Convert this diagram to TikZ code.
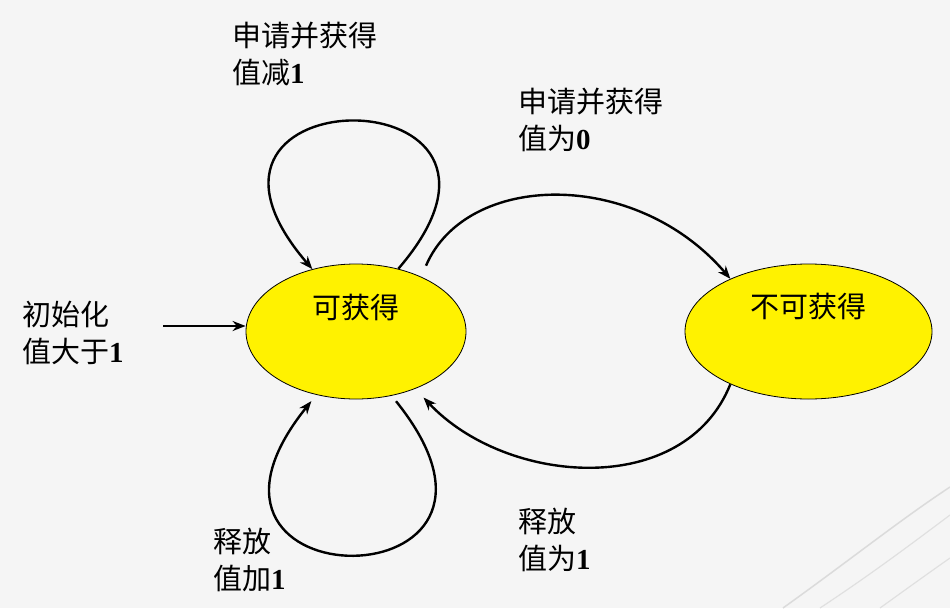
\documentclass[tikz,border=0pt]{standalone}
\usepackage{fontspec}
\setmainfont{Liberation Serif}
\newfontfamily\cjk{Noto Sans CJK SC}
\usetikzlibrary{arrows.meta,shapes.geometric}

\newcommand{\vnum}[1]{{\rmfamily\bfseries #1}}

\begin{document}
\begin{tikzpicture}[x=1pt, y=-1pt, >={Stealth[length=13pt, width=10pt]},
        state/.style={ellipse, draw=black, line width=0.8pt, fill=yellow, inner sep=0pt, minimum height=135pt},
        statetext/.style={inner sep=0pt, font=\cjk\fontsize{29}{37}\selectfont},
        edge/.style={->, line width=2.4pt},
        lbl/.style={anchor=west, align=left, inner sep=0pt, font=\cjk\fontsize{29}{37}\selectfont}]
        \fill[black!4] (0,0) rectangle (950,608);
        \useasboundingbox (0,0) rectangle (950,608);
        % paper texture strokes
        \draw[black!14, line width=1.5pt] (783,608) .. controls (850,560) and (900,520) .. (950,487);
        \draw[black!12, line width=1.2pt] (820,608) .. controls (870,575) and (910,545) .. (950,515);
        \draw[black!12, line width=1.2pt] (880,608) .. controls (905,590) and (930,572) .. (950,558);

        \node[state, minimum width=220pt, label={[statetext, yshift=23.5pt]center:可获得}] (avail) at (356,331.5) {};
        \node[state, minimum width=247pt, label={[statetext, yshift=24.5pt]center:不可获得}] (busy) at (808.5,331.5) {};
        \coordinate (initstart) at (163,326);

        \draw[edge] (initstart) -- (initstart -| avail.west);
        \draw[edge] (avail.56) .. controls +(170,-197) and +(-170,-197) .. (avail.125);
        \draw[edge, shorten <=7pt, shorten >=8pt] (avail.-61) .. controls +(170,211) and +(-170,211) .. (avail.-122);
        \draw[edge, shorten <=12pt] (avail.40) .. controls +(45,-105) and +(-95,-111) .. (busy.146);
        \draw[edge, shorten >=12pt] (busy.-146) .. controls +(-46,115) and +(91,97) .. (avail.-44);

        \node[lbl] (lblloopup) at (232,53.5) {申请并获得\\值减\vnum{1}};
        \node[lbl] (lblacquire) at (518,120) {申请并获得\\值为\vnum{0}};
        \node[lbl] (lblinit) at (22,332.5) {初始化\\值大于\vnum{1}};
        \node[lbl] (lblloopdown) at (213,560) {释放\\值加\vnum{1}};
        \node[lbl] (lblrelease) at (518,540) {释放\\值为\vnum{1}};
    \end{tikzpicture}
\end{document}
